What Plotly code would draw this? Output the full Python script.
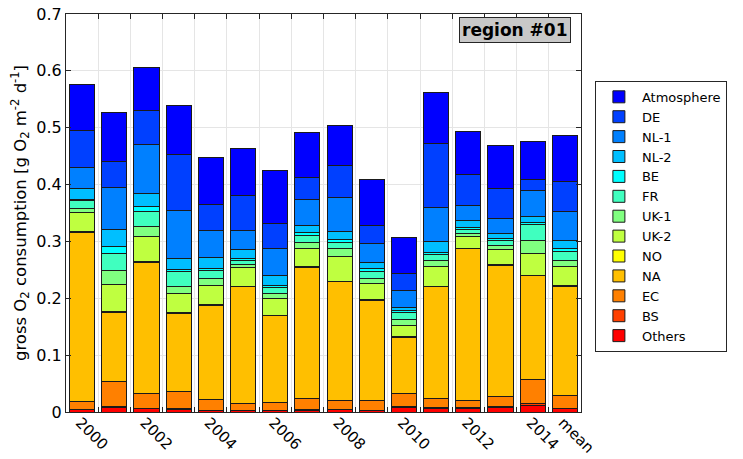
import plotly.graph_objects as go

# categories (bars) and tick labels
years = ["2000", "2001", "2002", "2003", "2004", "2005", "2006", "2007",
         "2008", "2009", "2010", "2011", "2012", "2013", "2014", "mean"]
tick_labels = ["2000", "", "2002", "", "2004", "", "2006", "",
               "2008", "", "2010", "", "2012", "", "2014", "mean"]

# contributions per source, g O2 m-2 d-1 (bottom to top)
others = [0.0042, 0.0080, 0.0060, 0.0047, 0.0025, 0.0025, 0.0028, 0.0035,
          0.0042, 0.0028, 0.0072, 0.0065, 0.0060, 0.0084, 0.0120, 0.0055]
bs = [0.0010, 0.0017, 0.0010, 0.0010, 0.0010, 0.0005, 0.0007, 0.0010,
      0.0010, 0.0007, 0.0020, 0.0015, 0.0015, 0.0020, 0.0030, 0.0015]
ec = [0.0132, 0.0447, 0.0260, 0.0300, 0.0180, 0.0117, 0.0139, 0.0198,
      0.0157, 0.0174, 0.0226, 0.0163, 0.0128, 0.0167, 0.0424, 0.0226]
na = [0.2979, 0.1211, 0.2306, 0.1380, 0.1658, 0.2053, 0.1519, 0.2301,
      0.2080, 0.1755, 0.0998, 0.1959, 0.2665, 0.2298, 0.1820, 0.1912]
no = [0.0005, 0.0010, 0.0010, 0.0010, 0.0010, 0.0010, 0.0010, 0.0010,
      0.0010, 0.0010, 0.0010, 0.0010, 0.0010, 0.0020, 0.0010, 0.0010]
uk2 = [0.0348, 0.0476, 0.0435, 0.0337, 0.0342, 0.0323, 0.0295, 0.0330,
       0.0434, 0.0290, 0.0203, 0.0348, 0.0209, 0.0271, 0.0388, 0.0333]
uk1 = [0.0069, 0.0244, 0.0186, 0.0122, 0.0127, 0.0059, 0.0080, 0.0105,
       0.0134, 0.0087, 0.0104, 0.0104, 0.0052, 0.0077, 0.0232, 0.0116]
fr = [0.0127, 0.0306, 0.0260, 0.0266, 0.0134, 0.0075, 0.0105, 0.0121,
      0.0115, 0.0122, 0.0115, 0.0099, 0.0077, 0.0086, 0.0272, 0.0156]
be = [0.0034, 0.0116, 0.0087, 0.0040, 0.0045, 0.0029, 0.0046, 0.0046,
      0.0047, 0.0047, 0.0030, 0.0040, 0.0027, 0.0028, 0.0041, 0.0045]
nl2 = [0.0191, 0.0308, 0.0231, 0.0191, 0.0181, 0.0157, 0.0169, 0.0128,
       0.0151, 0.0104, 0.0057, 0.0191, 0.0122, 0.0094, 0.0098, 0.0157]
nl1 = [0.0372, 0.0742, 0.0864, 0.0846, 0.0479, 0.0335, 0.0469, 0.0445,
       0.0584, 0.0347, 0.0302, 0.0596, 0.0268, 0.0254, 0.0469, 0.0499]
de = [0.0637, 0.0445, 0.0591, 0.0973, 0.0464, 0.0620, 0.0445, 0.0403,
      0.0563, 0.0306, 0.0296, 0.1136, 0.0538, 0.0538, 0.0191, 0.0538]
atmosphere = [0.0820, 0.0868, 0.0752, 0.0869, 0.0829, 0.0828, 0.0928, 0.0778,
              0.0712, 0.0817, 0.0636, 0.0897, 0.0770, 0.0748, 0.0655, 0.0799]

sources = ["Others", "BS", "EC", "NA", "NO", "UK-2", "UK-1", "FR", "BE",
           "NL-2", "NL-1", "DE", "Atmosphere"]
series = [others, bs, ec, na, no, uk2, uk1, fr, be, nl2, nl1, de, atmosphere]
# jet-like colour ramp
colors = ["#FF0000", "#FF4000", "#FF8000", "#FFBF00", "#FFFF00", "#BFFF40",
          "#80FF80", "#40FFBF", "#00FFFF", "#00BFFF", "#0080FF", "#0040FF",
          "#0000FF"]

fig = go.Figure()
for name, vals, col in zip(sources, series, colors):
    fig.add_trace(go.Bar(x=years, y=vals, name=name,
                         marker=dict(color=col, line=dict(color="#1a1a1a", width=1))))

# page body has an 8px margin, so the figure is 8px smaller than the window
fig.update_layout(
    barmode="stack",
    bargap=0.22,
    width=735, height=451,
    margin=dict(l=58, r=162, t=6, b=47),
    plot_bgcolor="white",
    paper_bgcolor="white",
    font=dict(family="DejaVu Sans", size=16, color="black"),
    legend=dict(traceorder="reversed", x=1.027, y=0.832, xanchor="left", yanchor="top",
                bordercolor="#262626", borderwidth=1, bgcolor="white",
                font=dict(size=13), tracegroupgap=0, itemwidth=36),
)
fig.update_xaxes(
    tickvals=years, ticktext=tick_labels, tickangle=45, tickson="boundaries",
    ticklabelshift=-2, ticklabelstandoff=-5, tickfont=dict(size=15),
    showgrid=True, gridcolor="#E5E5E5", showline=True, linecolor="#262626",
    mirror="ticks", ticks="inside", ticklen=5, tickcolor="#262626",
    range=[-0.5, 15.5], automargin=False, ticklabeloverflow="allow",
)
fig.update_yaxes(
    range=[0, 0.7], dtick=0.1, tickformat="~g", ticklabeloverflow="allow",
    showgrid=True, gridcolor="#E5E5E5", showline=True, linecolor="#262626",
    mirror="ticks", ticks="inside", ticklen=5, tickcolor="#262626",
    zeroline=False, automargin=False,
    title=dict(text="gross O<sub>2</sub> consumption [g O<sub>2</sub> m<sup>-2</sup> d<sup>-1</sup>]",
               standoff=8, font=dict(size=16.5)),
)
fig.add_annotation(
    text="<b>region #01</b>", xref="paper", yref="paper", x=0.981, y=0.992,
    xanchor="right", yanchor="top", showarrow=False,
    font=dict(size=17, color="black"), bgcolor="#C8C8C8",
    bordercolor="#262626", borderwidth=1, borderpad=2,
)

fig.write_html("out.html")
